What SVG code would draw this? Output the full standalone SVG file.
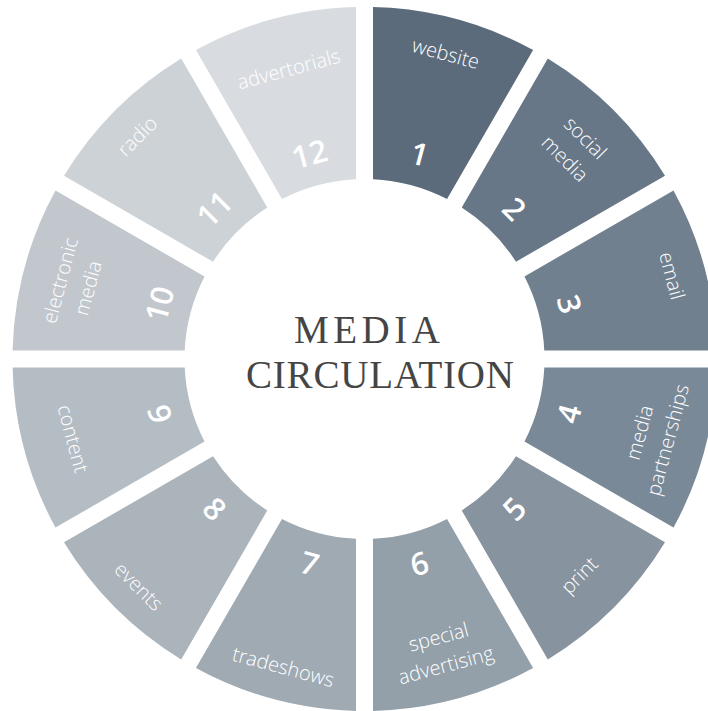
<svg xmlns="http://www.w3.org/2000/svg" width="708" height="711" viewBox="0 0 708 711">
<style>
.lbl{font-family:"Open Sans","Noto Sans","Liberation Sans",sans-serif;font-size:20px;font-weight:300;fill:#ffffff;text-anchor:middle}
.num{font-family:"Open Sans","Noto Sans","Liberation Sans",sans-serif;font-size:31px;font-weight:600;fill:#ffffff;text-anchor:middle}
.title{font-family:"Liberation Serif","DejaVu Serif",serif;font-size:39px;fill:#454545}
</style>
<rect width="708" height="711" fill="#ffffff"/>
<g id="seg1"><path d="M373,7.1 A352,352 0 0 1 533.09,49.99 L447.04,199.04 A180,180 0 0 0 373,179.2 Z" fill="#5b6b7b"/>
<text class="lbl" transform="translate(445.5,54.5) rotate(15)" y="6">website</text>
<text class="num" transform="translate(419.37,154.22) rotate(15)" y="11">1</text></g>
<g id="seg2"><path d="M547.81,58.49 A352,352 0 0 1 665.01,175.69 L515.96,261.74 A180,180 0 0 0 461.76,207.54 Z" fill="#677787"/>
<text class="lbl" transform="translate(574.5,149) rotate(45)"><tspan x="0" y="-8.5">social</tspan><tspan x="0" y="20.5">media</tspan></text>
<text class="num" transform="translate(514.41,209.09) rotate(45)" y="11">2</text></g>
<g id="seg3"><path d="M673.51,190.41 A352,352 0 0 1 716.4,350.5 L544.3,350.5 A180,180 0 0 0 524.46,276.46 Z" fill="#70808f"/>
<text class="lbl" transform="translate(671,276) rotate(75)" y="6">email</text>
<text class="num" transform="translate(569.28,304.13) rotate(75)" y="11">3</text></g>
<g id="seg4"><path d="M716.4,367.5 A352,352 0 0 1 673.51,527.59 L524.46,441.54 A180,180 0 0 0 544.3,367.5 Z" fill="#7a8998"/>
<text class="lbl" transform="translate(654.5,436.5) rotate(-75)"><tspan x="0" y="-8.5">media</tspan><tspan x="0" y="20.5">partnerships</tspan></text>
<text class="num" transform="translate(569.28,413.87) rotate(-75)" y="11">4</text></g>
<g id="seg5"><path d="M665.01,542.31 A352,352 0 0 1 547.81,659.51 L461.76,510.46 A180,180 0 0 0 515.96,456.26 Z" fill="#87939f"/>
<text class="lbl" transform="translate(580,576) rotate(-45)" y="6">print</text>
<text class="num" transform="translate(514.41,508.91) rotate(-45)" y="11">5</text></g>
<g id="seg6"><path d="M533.09,668.01 A352,352 0 0 1 373,710.9 L373,538.8 A180,180 0 0 0 447.04,518.96 Z" fill="#939fa9"/>
<text class="lbl" transform="translate(442.5,652) rotate(-15)"><tspan x="0" y="-8.5">special</tspan><tspan x="0" y="20.5">advertising</tspan></text>
<text class="num" transform="translate(419.37,563.78) rotate(-15)" y="11">6</text></g>
<g id="seg7"><path d="M356,710.9 A352,352 0 0 1 195.91,668.01 L281.96,518.96 A180,180 0 0 0 356,538.8 Z" fill="#a0aab3"/>
<text class="lbl" transform="translate(283,668) rotate(15)" y="6">tradeshows</text>
<text class="num" transform="translate(309.63,563.78) rotate(15)" y="11">7</text></g>
<g id="seg8"><path d="M181.19,659.51 A352,352 0 0 1 63.99,542.31 L213.04,456.26 A180,180 0 0 0 267.24,510.46 Z" fill="#abb3bb"/>
<text class="lbl" transform="translate(138,587) rotate(45)" y="6">events</text>
<text class="num" transform="translate(214.59,508.91) rotate(45)" y="11">8</text></g>
<g id="seg9"><path d="M55.49,527.59 A352,352 0 0 1 12.6,367.5 L184.7,367.5 A180,180 0 0 0 204.54,441.54 Z" fill="#b5bdc4"/>
<text class="lbl" transform="translate(72,439) rotate(75)" y="6">content</text>
<text class="num" transform="translate(159.72,413.87) rotate(75)" y="11">9</text></g>
<g id="seg10"><path d="M12.6,350.5 A352,352 0 0 1 55.49,190.41 L204.54,276.46 A180,180 0 0 0 184.7,350.5 Z" fill="#c1c7cd"/>
<text class="lbl" transform="translate(75,284.5) rotate(-75)"><tspan x="0" y="-8.5">electronic</tspan><tspan x="0" y="20.5">media</tspan></text>
<text class="num" transform="translate(159.72,304.13) rotate(-75)" y="11">10</text></g>
<g id="seg11"><path d="M63.99,175.69 A352,352 0 0 1 181.19,58.49 L267.24,207.54 A180,180 0 0 0 213.04,261.74 Z" fill="#cdd2d6"/>
<text class="lbl" transform="translate(138,137) rotate(-45)" y="6">radio</text>
<text class="num" transform="translate(214.59,209.09) rotate(-45)" y="11">11</text></g>
<g id="seg12"><path d="M195.91,49.99 A352,352 0 0 1 356,7.1 L356,179.2 A180,180 0 0 0 281.96,199.04 Z" fill="#d8dce1"/>
<text class="lbl" transform="translate(289,70) rotate(-15)" y="6">advertorials</text>
<text class="num" transform="translate(309.63,154.22) rotate(-15)" y="11">12</text></g>
<g id="center">
<text class="title" x="294" y="343" textLength="146" lengthAdjust="spacing">MEDIA</text>
<text class="title" x="246" y="388" textLength="268" lengthAdjust="spacing">CIRCULATION</text>
</g>
<g id="connectors"/>
</svg>
